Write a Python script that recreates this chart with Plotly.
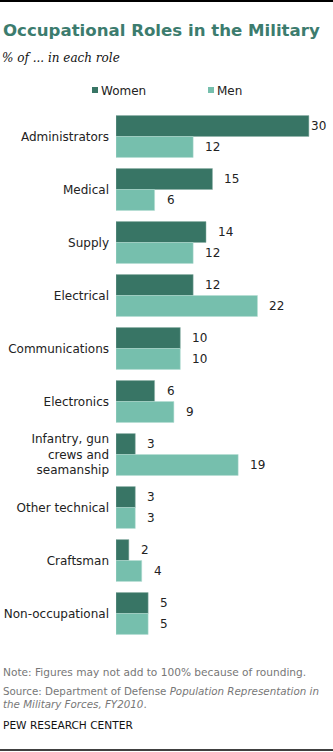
import plotly.graph_objects as go

categories = ["Administrators", "Medical", "Supply", "Electrical", "Communications",
              "Electronics", "Infantry, gun<br>crews and<br>seamanship", "Other technical",
              "Craftsman", "Non-occupational"]
women = [30, 15, 14, 12, 10, 6, 3, 3, 2, 5]
men = [12, 6, 12, 22, 10, 9, 19, 3, 4, 5]
series_names = ["Women", "Men"]

W, H = 333, 752
L, T, B = 116, 110, 112
plot_w = W - L
plot_h = H - T - B
xmax = plot_w / 6.43

WOMEN_C = "#387565"
MEN_C = "#76bfad"
TXT = "#222222"
FONT = "DejaVu Sans"


def px_x(x):
    """Pixel column -> paper x (paper spans the plot area)."""
    return (x - L) / plot_w


def px_y(y):
    """Pixel row from the top -> paper y."""
    return (H - B - y) / plot_h


fig = go.Figure()
fig.add_trace(go.Bar(y=categories, x=women, name=series_names[0], orientation="h",
                     marker=dict(color=WOMEN_C, line=dict(color="#8fb3a8", width=0.5)),
                     hoverinfo="skip", showlegend=False))
fig.add_trace(go.Bar(y=categories, x=men, name=series_names[1], orientation="h",
                     marker=dict(color=MEN_C, line=dict(color="#b5dcd2", width=0.5)),
                     hoverinfo="skip", showlegend=False))

ann = []
# value labels to the right of each bar
for cat, w, m in zip(categories, women, men):
    for val, yshift in ((w, 10.5), (m, -10.5)):
        shift = 10 if val < 28 else 0
        ann.append(dict(x=val, y=cat, xref="x", yref="y", text=str(val), showarrow=False,
                        xanchor="left", yanchor="middle", xshift=shift, yshift=yshift,
                        font=dict(family=FONT, size=12, color=TXT)))

shapes = [
    dict(type="line", xref="paper", yref="paper", x0=px_x(0), x1=px_x(W), y0=px_y(1), y1=px_y(1),
         line=dict(color="black", width=2)),
    dict(type="line", xref="paper", yref="paper", x0=px_x(0), x1=px_x(W), y0=px_y(750), y1=px_y(750),
         line=dict(color="black", width=1.5)),
]

# legend: small colour square followed by the series name
for name, color, sx in zip(series_names, [WOMEN_C, MEN_C], [92, 208]):
    shapes.append(dict(type="rect", xref="paper", yref="paper",
                       x0=px_x(sx), x1=px_x(sx + 6), y0=px_y(87), y1=px_y(93),
                       fillcolor=color, line=dict(width=0)))
    ann.append(dict(x=px_x(sx + 7), y=px_y(90.5), xref="paper", yref="paper",
                    xanchor="left", yanchor="middle", text=name, showarrow=False,
                    font=dict(family=FONT, size=12, color=TXT)))

ann += [
    dict(x=px_x(1), y=px_y(30), xref="paper", yref="paper", xanchor="left", yanchor="middle",
         text="<b>Occupational Roles in the Military</b>", showarrow=False,
         font=dict(family=FONT, size=16.6, color="#3c7c6e")),
    dict(x=px_x(0), y=px_y(58), xref="paper", yref="paper", xanchor="left", yanchor="middle",
         text="<i>% of ... in each role</i>", showarrow=False,
         font=dict(family="DejaVu Serif", size=12, color="#111111")),
    dict(x=px_x(1), y=px_y(672), xref="paper", yref="paper", xanchor="left", yanchor="middle",
         text="Note: Figures may not add to 100% because of rounding.", showarrow=False,
         font=dict(family=FONT, size=10.6, color="#777777")),
    dict(x=px_x(1), y=px_y(697), xref="paper", yref="paper", xanchor="left", yanchor="middle",
         text="Source: Department of Defense <i>Population Representation in</i><br>"
              "<i>the Military Forces, FY2010</i>.", showarrow=False, align="left",
         font=dict(family=FONT, size=10.3, color="#777777")),
    dict(x=px_x(1), y=px_y(725), xref="paper", yref="paper", xanchor="left", yanchor="middle",
         text="PEW RESEARCH CENTER", showarrow=False,
         font=dict(family=FONT, size=10.6, color="#111111")),
]

fig.update_layout(
    width=W, height=H,
    margin=dict(l=L, r=0, t=T, b=B),
    paper_bgcolor="white", plot_bgcolor="white",
    barmode="group", bargap=0.21, bargroupgap=0,
    font=dict(family=FONT, size=12, color=TXT),
    showlegend=False,
    xaxis=dict(range=[0, xmax], visible=False, fixedrange=True),
    yaxis=dict(autorange="reversed", showgrid=False, zeroline=False, showline=False,
               ticks="", ticklabelstandoff=6, tickfont=dict(family=FONT, size=12, color=TXT)),
    annotations=ann,
    shapes=shapes,
)

fig.write_html("out.html")
